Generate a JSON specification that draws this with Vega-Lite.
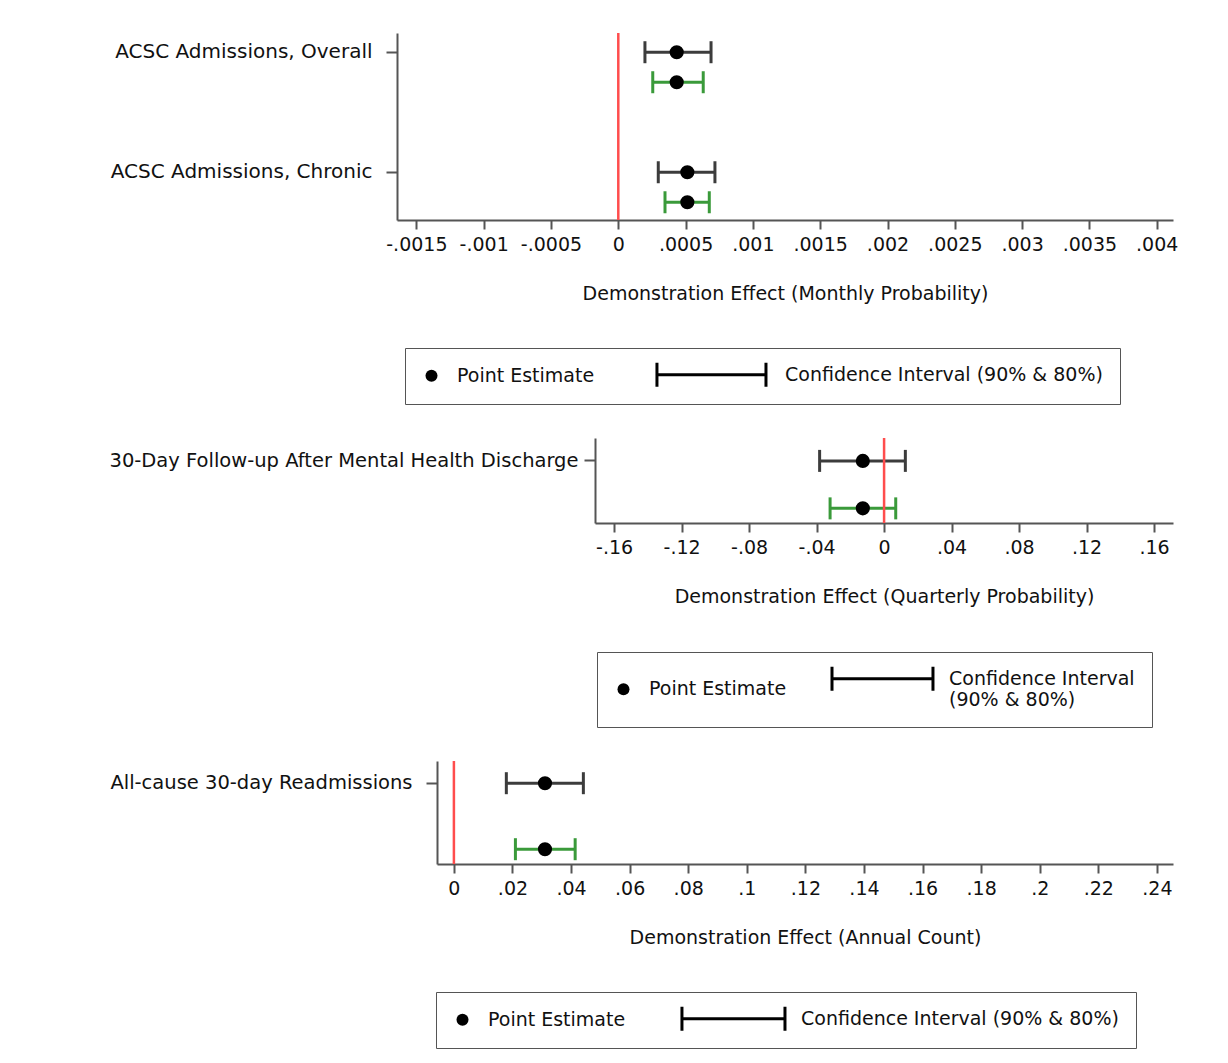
{
  "$schema": "https://vega.github.io/schema/vega-lite/v6.json",
  "background": "white",
  "padding": {"left": 108, "top": 31, "right": 10, "bottom": 5},
  "spacing": 31,
  "resolve": {"scale": {"shape": "independent", "color": "independent", "yOffset": "independent"}, "legend": {"shape": "independent"}},
  "datasets": {
    "ci": [
      {"panel": 1, "outcome": "ACSC Admissions, Overall", "level": "90%", "est": 0.000434, "lo": 0.000198, "hi": 0.000689},
      {"panel": 1, "outcome": "ACSC Admissions, Overall", "level": "80%", "est": 0.000434, "lo": 0.000256, "hi": 0.000631},
      {"panel": 1, "outcome": "ACSC Admissions, Chronic", "level": "90%", "est": 0.000513, "lo": 0.000297, "hi": 0.000718},
      {"panel": 1, "outcome": "ACSC Admissions, Chronic", "level": "80%", "est": 0.000513, "lo": 0.000347, "hi": 0.000676},
      {"panel": 2, "outcome": "30-Day Follow-up After Mental Health Discharge", "level": "90%", "est": -0.0126, "lo": -0.0382, "hi": 0.0126},
      {"panel": 2, "outcome": "30-Day Follow-up After Mental Health Discharge", "level": "80%", "est": -0.0126, "lo": -0.032, "hi": 0.0069},
      {"panel": 3, "outcome": "All-cause 30-day Readmissions", "level": "90%", "est": 0.0311, "lo": 0.0179, "hi": 0.0442},
      {"panel": 3, "outcome": "All-cause 30-day Readmissions", "level": "80%", "est": 0.0311, "lo": 0.021, "hi": 0.0414}
    ]
  },
  "vconcat": [
    {
      "width": 776,
      "height": 187,
      "data": {"name": "ci"},
      "transform": [{"filter": "datum.panel == 1"}],
      "layer": [
        {
          "mark": {"type": "rule", "strokeWidth": 3},
          "encoding": {
            "x": {"field": "lo", "type": "quantitative", "scale": {"domain": [-0.001644, 0.004121], "nice": false, "zero": false},
              "axis": {"title": "Demonstration Effect (Monthly Probability)", "values": [-0.0015, -0.001, -0.0005, 0, 0.0005, 0.001, 0.0015, 0.002, 0.0025, 0.003, 0.0035, 0.004], "labelExpr": "(datum.value < 0 ? '-' : '') + replace(format(abs(datum.value), '.4~f'), '0.', '.')"}},
            "x2": {"field": "hi"},
            "y": {"field": "outcome", "type": "nominal", "scale": {"domain": ["ACSC Admissions, Overall", "ACSC Admissions, Chronic"], "paddingInner": 0.75, "paddingOuter": 0.154, "align": 0.52, "round": false},
              "axis": {"title": null, "bandPosition": 0, "labelOffset": -15, "labelLimit": 600, "labelFontSize": 20, "labelPadding": 14}},
            "yOffset": {"field": "level", "type": "nominal", "scale": {"domain": ["90%", "80%"], "paddingInner": 1, "paddingOuter": 0}},
            "color": {"field": "level", "type": "nominal", "scale": {"domain": ["90%", "80%"], "range": ["#3c3c3c", "#3a9a3a"]}, "legend": null}
          }
        },
        {
          "mark": {"type": "tick", "size": 22, "thickness": 3, "opacity": 1},
          "encoding": {
            "x": {"field": "lo", "type": "quantitative"},
            "y": {"field": "outcome", "type": "nominal"},
            "yOffset": {"field": "level", "type": "nominal"},
            "color": {"field": "level", "type": "nominal", "legend": null}
          }
        },
        {
          "mark": {"type": "tick", "size": 22, "thickness": 3, "opacity": 1},
          "encoding": {
            "x": {"field": "hi", "type": "quantitative"},
            "y": {"field": "outcome", "type": "nominal"},
            "yOffset": {"field": "level", "type": "nominal"},
            "color": {"field": "level", "type": "nominal", "legend": null}
          }
        },
        {
          "data": {"values": [{}]},
          "mark": {"type": "rule", "color": "#ff4d4d", "strokeWidth": 2.5},
          "encoding": {"x": {"datum": 0, "type": "quantitative"}}
        },
        {
          "mark": {"type": "point", "filled": true, "size": 200, "color": "#000", "opacity": 1},
          "encoding": {
            "x": {"field": "est", "type": "quantitative"},
            "y": {"field": "outcome", "type": "nominal"},
            "yOffset": {"field": "level", "type": "nominal"},
            "shape": {"datum": "Point Estimate", "type": "nominal",
              "scale": {"domain": ["Point Estimate", "Confidence Interval (90% & 80%)"], "range": ["circle", "M-17.34,-2H-16.84V-0.25H0.83V-2H1.33V2H0.83V0.25H-16.84V2H-17.34Z"]},
              "legend": {"title": null, "orient": "none", "legendX": 8, "legendY": 315, "direction": "horizontal", "columns": 2, "padding": 17, "strokeColor": "#555", "fillColor": "white", "symbolSize": 144, "symbolFillColor": "#111", "symbolStrokeWidth": 0, "symbolOpacity": 1, "labelOffset": 16, "columnPadding": 60, "labelLimit": 600,
                "encode": {"legend": {"update": {"strokeWidth": {"value": 2}}}}}}
          }
        }
      ]
    },
    {
      "width": 776,
      "height": 85,
      "data": {"name": "ci"},
      "transform": [{"filter": "datum.panel == 2"}],
      "layer": [
        {
          "mark": {"type": "rule", "strokeWidth": 3},
          "encoding": {
            "x": {"field": "lo", "type": "quantitative", "scale": {"domain": [-0.1713, 0.1712], "nice": false, "zero": false, "range": [198, 776]},
              "axis": {"title": "Demonstration Effect (Quarterly Probability)", "values": [-0.16, -0.12, -0.08, -0.04, 0, 0.04, 0.08, 0.12, 0.16], "labelExpr": "(datum.value < 0 ? '-' : '') + replace(format(abs(datum.value), '.2~f'), '0.', '.')"}},
            "x2": {"field": "hi"},
            "y": {"field": "outcome", "type": "nominal", "scale": {"paddingInner": 0, "paddingOuter": 0.395, "align": 0.61, "round": false},
              "axis": {"title": null, "offset": -198, "bandPosition": 0, "labelOffset": -23.75, "labelLimit": 600, "labelFontSize": 19.5, "labelPadding": 6}},
            "yOffset": {"field": "level", "type": "nominal", "scale": {"domain": ["90%", "80%"], "paddingInner": 1, "paddingOuter": 0}},
            "color": {"field": "level", "type": "nominal", "scale": {"domain": ["90%", "80%"], "range": ["#3c3c3c", "#3a9a3a"]}, "legend": null}
          }
        },
        {
          "mark": {"type": "tick", "size": 22, "thickness": 3, "opacity": 1},
          "encoding": {
            "x": {"field": "lo", "type": "quantitative"},
            "y": {"field": "outcome", "type": "nominal"},
            "yOffset": {"field": "level", "type": "nominal"},
            "color": {"field": "level", "type": "nominal", "legend": null}
          }
        },
        {
          "mark": {"type": "tick", "size": 22, "thickness": 3, "opacity": 1},
          "encoding": {
            "x": {"field": "hi", "type": "quantitative"},
            "y": {"field": "outcome", "type": "nominal"},
            "yOffset": {"field": "level", "type": "nominal"},
            "color": {"field": "level", "type": "nominal", "legend": null}
          }
        },
        {
          "data": {"values": [{}]},
          "mark": {"type": "rule", "color": "#ff4d4d", "strokeWidth": 2.5},
          "encoding": {"x": {"datum": 0, "type": "quantitative"}}
        },
        {
          "mark": {"type": "point", "filled": true, "size": 200, "color": "#000", "opacity": 1},
          "encoding": {
            "x": {"field": "est", "type": "quantitative"},
            "y": {"field": "outcome", "type": "nominal"},
            "yOffset": {"field": "level", "type": "nominal"},
            "shape": {"datum": "Point Estimate", "type": "nominal",
              "scale": {"domain": ["Point Estimate", "Confidence Interval (90% & 80%)"], "range": ["circle", "M-15.5,-2H-15V-0.25H1.33V-2H1.83V2H1.33V0.25H-15V2H-15.5Z"]},
              "legend": {"title": null, "orient": "none", "legendX": 200, "legendY": 214, "direction": "horizontal", "columns": 2, "padding": 17, "strokeColor": "#555", "fillColor": "white", "symbolSize": 144, "symbolFillColor": "#111", "symbolStrokeWidth": 0, "symbolOpacity": 1, "labelOffset": 16, "columnPadding": 43, "labelLimit": 600,
                "labelExpr": "datum.label == 'Point Estimate' ? datum.label : ['Confidence Interval', '(90% & 80%)']",
                "encode": {"legend": {"update": {"strokeWidth": {"value": 2}}}}}}
          }
        }
      ]
    },
    {
      "width": 776,
      "height": 103,
      "data": {"name": "ci"},
      "transform": [{"filter": "datum.panel == 3"}],
      "layer": [
        {
          "mark": {"type": "rule", "strokeWidth": 3},
          "encoding": {
            "x": {"field": "lo", "type": "quantitative", "scale": {"domain": [-0.00577, 0.2455], "nice": false, "zero": false, "range": [40, 776]},
              "axis": {"title": "Demonstration Effect (Annual Count)", "values": [0, 0.02, 0.04, 0.06, 0.08, 0.1, 0.12, 0.14, 0.16, 0.18, 0.2, 0.22, 0.24], "labelExpr": "(datum.value < 0 ? '-' : '') + replace(format(abs(datum.value), '.2~f'), '0.', '.')"}},
            "x2": {"field": "hi"},
            "y": {"field": "outcome", "type": "nominal", "scale": {"paddingInner": 0, "paddingOuter": 0.2803, "align": 0.6, "round": false},
              "axis": {"title": null, "offset": -40, "bandPosition": 0, "labelOffset": -33, "labelLimit": 600, "labelFontSize": 19.5, "labelPadding": 14}},
            "yOffset": {"field": "level", "type": "nominal", "scale": {"domain": ["90%", "80%"], "paddingInner": 1, "paddingOuter": 0}},
            "color": {"field": "level", "type": "nominal", "scale": {"domain": ["90%", "80%"], "range": ["#3c3c3c", "#3a9a3a"]}, "legend": null}
          }
        },
        {
          "mark": {"type": "tick", "size": 22, "thickness": 3, "opacity": 1},
          "encoding": {
            "x": {"field": "lo", "type": "quantitative"},
            "y": {"field": "outcome", "type": "nominal"},
            "yOffset": {"field": "level", "type": "nominal"},
            "color": {"field": "level", "type": "nominal", "legend": null}
          }
        },
        {
          "mark": {"type": "tick", "size": 22, "thickness": 3, "opacity": 1},
          "encoding": {
            "x": {"field": "hi", "type": "quantitative"},
            "y": {"field": "outcome", "type": "nominal"},
            "yOffset": {"field": "level", "type": "nominal"},
            "color": {"field": "level", "type": "nominal", "legend": null}
          }
        },
        {
          "data": {"values": [{}]},
          "mark": {"type": "rule", "color": "#ff4d4d", "strokeWidth": 2.5},
          "encoding": {"x": {"datum": 0, "type": "quantitative"}}
        },
        {
          "mark": {"type": "point", "filled": true, "size": 200, "color": "#000", "opacity": 1},
          "encoding": {
            "x": {"field": "est", "type": "quantitative"},
            "y": {"field": "outcome", "type": "nominal"},
            "yOffset": {"field": "level", "type": "nominal"},
            "shape": {"datum": "Point Estimate", "type": "nominal",
              "scale": {"domain": ["Point Estimate", "Confidence Interval (90% & 80%)"], "range": ["circle", "M-15.84,-2H-15.34V-0.25H1.33V-2H1.83V2H1.33V0.25H-15.34V2H-15.84Z"]},
              "legend": {"title": null, "orient": "none", "legendX": 39, "legendY": 231, "direction": "horizontal", "columns": 2, "padding": 17, "strokeColor": "#555", "fillColor": "white", "symbolSize": 144, "symbolFillColor": "#111", "symbolStrokeWidth": 0, "symbolOpacity": 1, "labelOffset": 16, "columnPadding": 54, "labelLimit": 600,
                "encode": {"legend": {"update": {"strokeWidth": {"value": 2}}}}}}
          }
        }
      ]
    }
  ],
  "config": {
    "view": {"stroke": null},
    "axis": {"grid": false, "domainColor": "#555", "domainWidth": 2, "tickColor": "#555", "tickWidth": 2,
      "labelFont": "DejaVu Sans", "labelFontSize": 19, "labelColor": "#111",
      "titleFont": "DejaVu Sans", "titleFontSize": 19, "titleFontWeight": "normal", "titleColor": "#111",
      "labelFlush": false, "labelOverlap": false},
    "axisX": {"tickSize": 9, "labelPadding": 6, "titlePadding": 30},
    "axisY": {"tickSize": 11, "labelPadding": 6},
    "legend": {"labelFont": "DejaVu Sans", "labelFontSize": 19, "labelColor": "#111"}
  }
}
